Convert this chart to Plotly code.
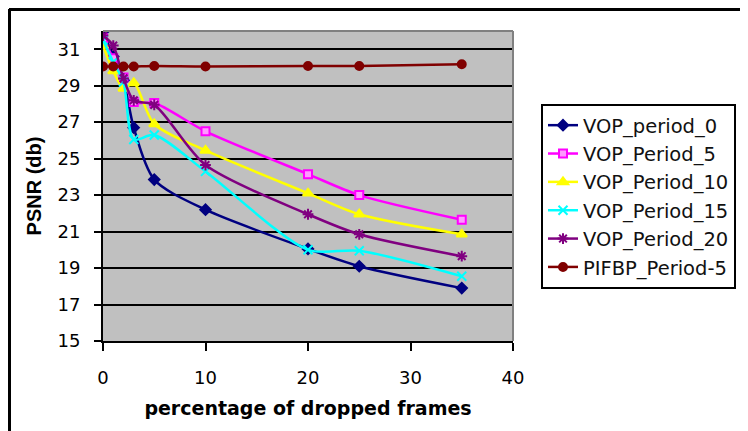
import plotly.graph_objects as go

x_vals = [0, 1, 2, 3, 5, 10, 20, 25, 35]

vop_period_0 = [31.95, 30.6, 29.3, 26.7, 23.85, 22.2, 20.05, 19.1, 17.9]
vop_period_5 = [31.6, 30.5, 29.45, 28.1, 28.05, 26.5, 24.15, 23.0, 21.65]
vop_period_10 = [31.2, 29.8, 28.85, 29.15, 26.9, 25.45, 23.1, 21.95, 20.85]
vop_period_15 = [31.5, 30.3, 29.2, 26.05, 26.3, 24.3, 20.0, 19.95, 18.55]
vop_period_20 = [31.75, 31.2, 29.4, 28.2, 27.95, 24.65, 21.95, 20.85, 19.65]
pifbp_period_5 = [30.05, 30.05, 30.05, 30.05, 30.08, 30.05, 30.08, 30.08, 30.18]

series_names = ["VOP_period_0", "VOP_Period_5", "VOP_Period_10",
                "VOP_Period_15", "VOP_Period_20", "PIFBP_Period-5"]
series_vals = [vop_period_0, vop_period_5, vop_period_10,
               vop_period_15, vop_period_20, pifbp_period_5]
colors = ["#000080", "#FF00FF", "#FFFF00", "#00FFFF", "#800080", "#800000"]
symbols = ["diamond", "square", "triangle-up", "x-thin-open", "asterisk-open", "circle"]
sizes = [8, 8, 9, 9, 9, 8]

y_ticks = [15, 17, 19, 21, 23, 25, 27, 29, 31]
x_ticks = [0, 10, 20, 30, 40]

WIDE = "DejaVu Sans, Verdana, sans-serif"
ARIAL = "Arial, Liberation Sans, sans-serif"

fig = go.Figure()
for name, vals, c, s, sz in zip(series_names, series_vals, colors, symbols, sizes):
    marker = dict(symbol=s, size=sz, color=c, line=dict(color=c, width=2))
    if s == "square":
        marker = dict(symbol=s, size=8, color="#FF99FF", line=dict(color=c, width=2))
    fig.add_trace(go.Scatter(
        x=x_vals, y=vals, name=name, mode="lines+markers",
        line=dict(color=c, width=2.5, shape="spline", smoothing=0.8),
        marker=marker,
    ))

# page offset of the figure inside the browser window (body margin)
OFF = 8
W, H = 748 - OFF, 431 - OFF
ml, mt = 103 - OFF, 31 - OFF
pw, ph = 410, 310
mr = W - ml - pw
mb = H - mt - ph

def px_x(p):  # reference-image pixel -> paper x
    return (p - OFF - ml) / pw

def px_y(p):  # reference-image pixel -> paper y
    return (mt + ph - (p - OFF)) / ph

fig.update_layout(
    width=W, height=H,
    margin=dict(l=ml, r=mr, t=mt, b=mb, autoexpand=False),
    paper_bgcolor="white",
    plot_bgcolor="#C0C0C0",
    font=dict(family=WIDE, color="black", size=18),
    showlegend=True,
    legend=dict(
        x=px_x(541), y=px_y(104), xanchor="left", yanchor="top",
        bgcolor="white", bordercolor="black", borderwidth=2,
        font=dict(family=WIDE, size=19.5, color="#111111"),
        itemwidth=30, tracegroupgap=0,
    ),
    xaxis=dict(
        range=[0, 40], tickvals=x_ticks, ticktext=[str(v) for v in x_ticks],
        showgrid=False, zeroline=False,
        showline=True, linecolor="black", linewidth=2,
        ticks="outside", ticklen=8, tickwidth=2, tickcolor="black",
        ticklabelstandoff=11,
        tickfont=dict(family=WIDE, size=18),
        title=dict(text="<b>percentage of dropped frames</b>",
                   font=dict(family=WIDE, size=19), standoff=15),
    ),
    yaxis=dict(
        range=[15, 32], tickvals=y_ticks, ticktext=[str(v) for v in y_ticks],
        showgrid=True, gridcolor="black", gridwidth=2, zeroline=False,
        showline=True, linecolor="black", linewidth=2,
        ticks="outside", ticklen=7, tickwidth=2, tickcolor="black",
        ticklabelstandoff=10,
        tickfont=dict(family=WIDE, size=18),
        title=dict(text="<b>PSNR (db)</b>",
                   font=dict(family=ARIAL, size=20), standoff=10),
    ),
    shapes=[
        # plot area border (top and right)
        dict(type="line", xref="paper", yref="paper", x0=0, x1=1, y0=1, y1=1,
             line=dict(color="#808080", width=2)),
        dict(type="line", xref="paper", yref="paper", x0=1, x1=1, y0=0, y1=1,
             line=dict(color="#808080", width=2)),
        # outer chart border
        dict(type="line", xref="paper", yref="paper",
             x0=px_x(9), x1=px_x(760), y0=px_y(9.5), y1=px_y(9.5),
             line=dict(color="black", width=3)),
        dict(type="line", xref="paper", yref="paper",
             x0=px_x(9.5), x1=px_x(9.5), y0=px_y(9), y1=px_y(440),
             line=dict(color="black", width=3)),
    ],
)

fig.write_html("out.html")
